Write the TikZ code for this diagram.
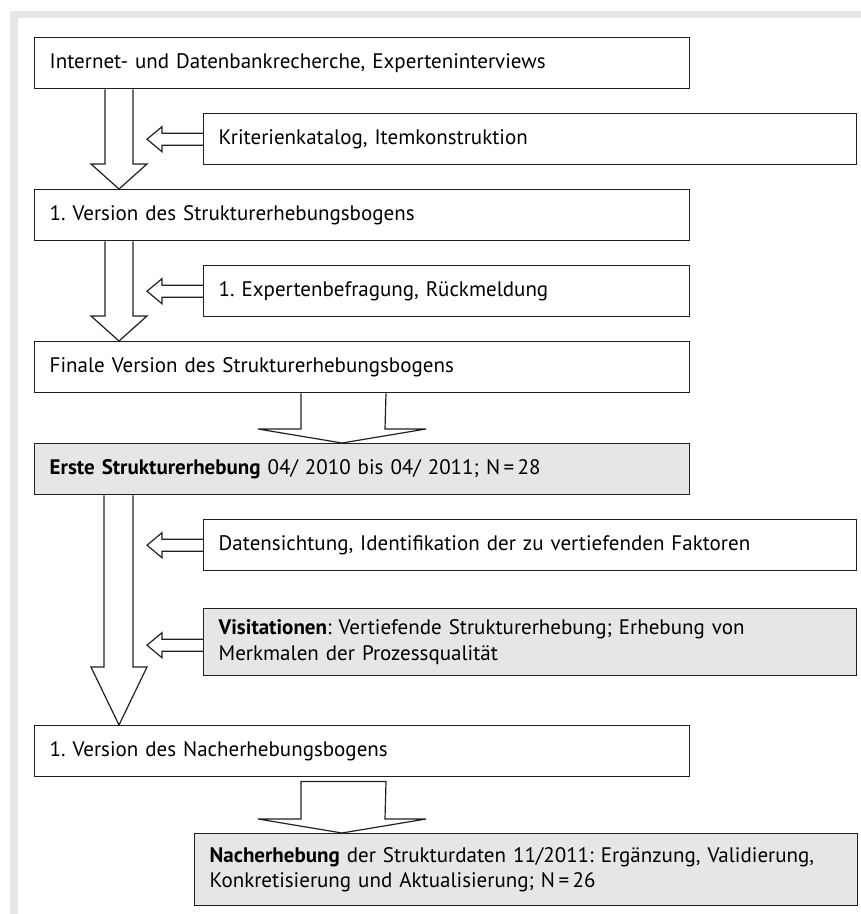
\documentclass[tikz,border=0pt]{standalone}
\usepackage{fontspec}
\setmainfont{PT Sans}
\usepackage{tikz}
\usetikzlibrary{calc}
\definecolor{Rahmengrau}{RGB}{229,230,231}
\definecolor{Kastengrau}{RGB}{229,230,231}
\definecolor{Linie}{RGB}{35,31,32}
\frenchspacing

\begin{document}
\begin{tikzpicture}[x=1pt, y=-1pt,
    kasten/.style={
        rectangle, draw=Linie, line width=1.4pt, fill=white,
        anchor=north west, inner xsep=15pt, inner ysep=0pt,
        minimum height=51pt, align=left,
        font=\fontsize{21}{25.5}\selectfont},
    links/.style={kasten, text width=625pt},
    rechts/.style={kasten, text width=623pt},
    grau/.style={fill=Kastengrau},
    pfeil/.style={draw=Linie, line width=1.2pt, line join=miter}]
  \useasboundingbox (0,0) rectangle (861,914);
  % Rahmen
  \fill[Rahmengrau] (10,11) rectangle (861,18);
  \fill[Rahmengrau] (10,11) rectangle (18,914);
  % Kaesten links
  \node[links] (v1) at (34,37)  {Internet- und Datenbankrecherche, Experteninterviews};
  \node[links] (v2) at (34,189) {1. Version des Strukturerhebungsbogens};
  \node[links] (v3) at (34,341) {Finale Version des Strukturerhebungsbogens};
  \node[links, grau] (v4) at (34,443)
    {\textbf{Erste Strukturerhebung} 04/ 2010 bis 04/ 2011; N\,=\,28};
  \node[links] (v5) at (34,725) {1. Version des Nacherhebungsbogens};
  % Kaesten rechts
  \node[rechts] (k1) at (203,113) {Kriterienkatalog, Itemkonstruktion};
  \node[kasten, text width=456pt] (k2) at (203,265) {1. Expertenbefragung, Rückmeldung};
  \node[rechts] (k3) at (203,519)
    {Datensichtung, Identifikation der zu vertiefenden Faktoren};
  \node[rechts, grau, minimum height=67pt] (k4) at (203,608)
    {\textbf{Visitationen}: Vertiefende Strukturerhebung; Erhebung von\\
     Merkmalen der Prozessqualität};
  \node[kasten, grau, text width=633pt, minimum height=72pt] (v6) at (194,833)
    {\textbf{Nacherhebung} der Strukturdaten 11/2011: Ergänzung, Validierung,\\
     Konkretisierung und Aktualisierung; N\,=\,26};
  % Dicke Pfeile nach unten
  \draw[pfeil] (v1.south -| 105,0) -- ($(v2.north -| 105,0)+(0,-25)$)
    -- ++(-14,0) -- (v2.north -| 119,0) -- ++(28,-25) -- ++(-14,0)
    -- (v1.south -| 133,0);
  \draw[pfeil] (v2.south -| 105,0) -- ($(v3.north -| 105,0)+(0,-25)$)
    -- ++(-14,0) -- (v3.north -| 119,0) -- ++(28,-25) -- ++(-14,0)
    -- (v2.south -| 133,0);
  \draw[pfeil] (v3.south -| 301,0) -- ($(v4.north -| 301,0)+(0,-14)$)
    -- ++(-43,0) -- (v4.north -| 342,0) -- ++(84,-14) -- ++(-41,0)
    -- (v3.south -| 386,0);
  \draw[pfeil] (v4.south -| 104,0) -- ($(v5.north -| 104,0)+(0,-58)$)
    -- ++(-13,0) -- (v5.north -| 119,0) -- ++(28,-58) -- ++(-14,0)
    -- (v4.south -| 133,0);
  \draw[pfeil] ($(v5.south -| 301,0)+(0,4)$) -- ($(v6.north -| 301,0)+(0,-14)$)
    -- ++(-43,0) -- (v6.north -| 342,0) -- ++(84,-14) -- ++(-41,0)
    -- ($(v5.south -| 386,0)+(0,4)$) -- cycle;
  % Kleine Pfeile nach links
  \draw[pfeil] ($(k1.west)+(0,-6)$) -- ++(-41,0) -- ++(0,-6.5) -- ++(-15,12.5)
    -- ++(15,12.5) -- ++(0,-6.5) -- ++(41,0);
  \draw[pfeil] ($(k2.west)+(0,-6)$) -- ++(-41,0) -- ++(0,-6.5) -- ++(-15,12.5)
    -- ++(15,12.5) -- ++(0,-6.5) -- ++(41,0);
  \draw[pfeil] ($(k3.west)+(0,-6)$) -- ++(-41,0) -- ++(0,-6.5) -- ++(-15,12.5)
    -- ++(15,12.5) -- ++(0,-6.5) -- ++(41,0);
  \draw[pfeil] ($(k4.west)+(0,-3)$) -- ++(-41,0) -- ++(0,-6.5) -- ++(-15,12.5)
    -- ++(15,12.5) -- ++(0,-6.5) -- ++(41,0);
\end{tikzpicture}
\end{document}
